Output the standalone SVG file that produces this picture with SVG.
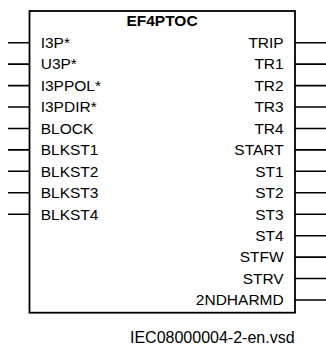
<svg xmlns="http://www.w3.org/2000/svg" width="326" height="346" viewBox="0 0 326 346">
<style>
.ln{stroke:#000;stroke-width:1.6;fill:none}
.box{stroke:#000;stroke-width:1.8;fill:#fff}
.t{font-family:"Liberation Sans",Arial,sans-serif;font-size:15.5px;fill:#000}
.l{text-anchor:start}
.r{text-anchor:end}
.title{font-family:"Liberation Sans",Arial,sans-serif;font-size:15.5px;font-weight:bold;text-anchor:middle;fill:#000}
.foot{font-family:"Liberation Sans",Arial,sans-serif;font-size:16px;fill:#000}
</style>
<g id="connectors">
<path class="ln" d="M8 42.7H29.5M8 64.1H29.5M8 85.6H29.5M8 107H29.5M8 128.5H29.5M8 149.9H29.5M8 171.3H29.5M8 192.8H29.5M8 214.2H29.5"/>
<path class="ln" d="M295 42.7H326M295 64.1H326M295 85.6H326M295 107H326M295 128.5H326M295 149.9H326M295 171.3H326M295 192.8H326M295 214.2H326M295 235.7H326M295 257.1H326M295 278.5H326M295 300H326"/>
</g>
<g id="EF4PTOC">
<rect class="box" x="29.5" y="11" width="265.5" height="301.7"/>
<text class="title" x="162" y="26">EF4PTOC</text>
<text class="t l" x="40.7" y="48">I3P*</text>
<text class="t l" x="40.7" y="69.4">U3P*</text>
<text class="t l" x="40.7" y="90.9">I3PPOL*</text>
<text class="t l" x="40.7" y="112.3">I3PDIR*</text>
<text class="t l" x="40.7" y="133.8">BLOCK</text>
<text class="t l" x="40.7" y="155.2">BLKST1</text>
<text class="t l" x="40.7" y="176.6">BLKST2</text>
<text class="t l" x="40.7" y="198.1">BLKST3</text>
<text class="t l" x="40.7" y="219.5">BLKST4</text>
<text class="t r" x="283.7" y="48">TRIP</text>
<text class="t r" x="283.7" y="69.4">TR1</text>
<text class="t r" x="283.7" y="90.9">TR2</text>
<text class="t r" x="283.7" y="112.3">TR3</text>
<text class="t r" x="283.7" y="133.8">TR4</text>
<text class="t r" x="283.7" y="155.2">START</text>
<text class="t r" x="283.7" y="176.6">ST1</text>
<text class="t r" x="283.7" y="198.1">ST2</text>
<text class="t r" x="283.7" y="219.5">ST3</text>
<text class="t r" x="283.7" y="241">ST4</text>
<text class="t r" x="283.7" y="262.4">STFW</text>
<text class="t r" x="283.7" y="283.8">STRV</text>
<text class="t r" x="283.7" y="305.3">2NDHARMD</text>
</g>
<text class="foot" x="130" y="343">IEC08000004-2-en.vsd</text>
</svg>
